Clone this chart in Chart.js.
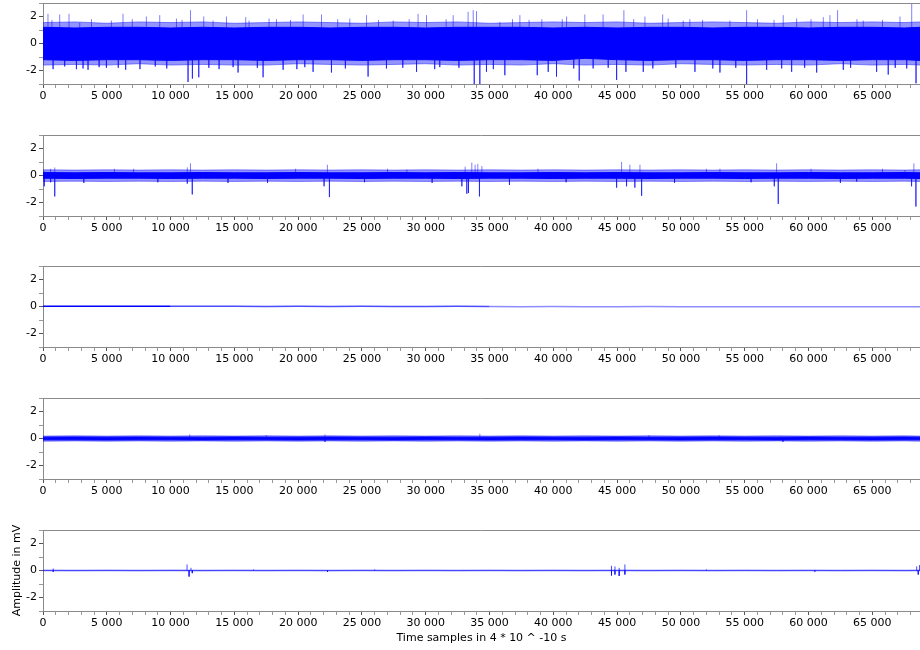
<!DOCTYPE html>
<html>
<head>
<meta charset="utf-8">
<script src="https://cdn.jsdelivr.net/npm/chart.js@4.4.1/dist/chart.umd.min.js"></script>
<style>
html, body { margin: 0; padding: 0; background: #fff; }
#wrap { position: relative; width: 920px; height: 650px; overflow: hidden; }
#wrap canvas { position: absolute; left: 0; }
</style>
</head>
<body>
<div id="wrap"></div>
<script>
// time axis (samples) and tick labels
const xMax = 68740;
const xMajor = [0, 5000, 10000, 15000, 20000, 25000, 30000, 35000, 40000, 45000, 50000, 55000, 60000, 65000];
const yTicks = [-3, -2, -1, 0, 1, 2, 3];
const yLabels = [-2, 0, 2];

// x positions of the band envelopes
const envX = [0, 2500, 5000, 7500, 10000, 12500, 15000, 17500, 20000, 22500, 25000, 27500, 30000, 32500,
  35000, 37500, 40000, 42500, 45000, 47500, 50000, 52500, 55000, 57500, 60000, 62500, 65000, 67500, 68740];

// channel 1
const p1CoreHi = [1.2, 1.15, 1.2, 1.2, 1.15, 1.2, 1.15, 1.2, 1.2, 1.15, 1.2, 1.2, 1.15, 1.2, 1.2, 1.2, 1.15, 1.2, 1.15, 1.2, 1.2, 1.15, 1.2, 1.2, 1.15, 1.2, 1.2, 1.15, 1.2];
const p1CoreLo = [-1.2, -1.25, -1.2, -1.2, -1.25, -1.2, -1.2, -1.25, -1.2, -1.2, -1.25, -1.2, -1.2, -1.25, -1.2, -1.2, -1.25, -1.1, -1.2, -1.25, -1.2, -1.2, -1.25, -1.2, -1.2, -1.25, -1.2, -1.2, -1.25];
const p1FringeHi = [1.55, 1.6, 1.5, 1.6, 1.55, 1.6, 1.5, 1.55, 1.6, 1.55, 1.5, 1.6, 1.55, 1.6, 1.5, 1.55, 1.6, 1.55, 1.6, 1.5, 1.55, 1.6, 1.55, 1.5, 1.6, 1.55, 1.6, 1.55, 1.6];
const p1FringeLo = [-1.6, -1.55, -1.6, -1.5, -1.6, -1.55, -1.6, -1.6, -1.5, -1.55, -1.6, -1.55, -1.5, -1.6, -1.55, -1.6, -1.5, -1.6, -1.55, -1.6, -1.5, -1.55, -1.6, -1.55, -1.6, -1.5, -1.6, -1.55, -1.6];
const p1Spikes = [
  [390, 2.2], [790, -1.9], [1310, 2.15], [2040, 2.2], [2620, -1.9], [2880, 1.55], [3140, -1.85], [3530, -1.95],
  [4970, -1.8], [5360, 1.7], [6270, 2.2], [6480, -1.95], [8100, 2.0], [9150, 2.1], [10460, 1.85], [11370, -2.85],
  [11560, 2.47], [11710, -2.6], [12210, -2.5], [12600, 2.0], [13330, 1.7], [14380, 2.0], [14900, -1.75], [15290, -2.15],
  [15890, 1.95], [16150, 1.7], [17250, -2.5], [17720, 1.85], [18820, -1.95], [20390, 2.15], [20520, -1.75],
  [21170, -2.1], [21830, 2.15], [22610, -2.15], [24050, 1.85], [25360, 2.1], [25480, -2.45], [26920, -1.85],
  [27450, 1.7], [29280, -2.1], [29400, 2.2], [30060, 2.1], [31100, -1.75], [32150, 2.1], [33320, 2.35], [33720, 2.47],
  [33800, -3.0], [33980, 2.4], [34240, -3.0], [34760, -2.1], [35810, 1.6], [36200, -2.35], [37380, 2.1], [38740, -2.35],
  [39600, -2.1], [40250, -2.45], [41040, 2.0], [42030, -2.75], [42470, 2.15], [43120, -1.85], [43900, 2.15],
  [44960, -2.7], [45530, 2.47], [45690, -2.1], [47050, -2.1], [47180, 2.0], [48570, 2.15], [49000, 1.85], [50180, 1.7],
  [51100, -2.1], [53060, -2.15], [53840, 1.7], [55150, 2.47], [55150, -3.0], [56720, -1.95], [58020, 2.1], [58680, -2.1],
  [59070, 1.85], [60640, -2.15], [61160, 1.95], [61680, 2.1], [62280, 2.47], [62730, -1.95], [64290, 1.7], [65340, -2.1],
  [66250, -2.3], [67170, 2.0], [68090, 2.95], [68430, -2.95],
  [700, 1.75], [1700, -1.7], [3800, 1.8], [4400, -1.75], [5900, -1.8], [7000, 1.8], [7600, -1.9], [8800, -1.7],
  [9700, -1.85], [10900, 1.75], [13000, -1.8], [13800, -1.9], [16800, -1.8], [18300, 1.8], [19400, 1.75], [19900, -1.9],
  [23100, 1.8], [23700, -1.85], [26300, 1.75], [28200, -1.8], [28700, 1.8], [30700, -1.9], [31600, 1.8], [32600, -1.8],
  [35300, -1.9], [36800, 1.8], [38100, 1.75], [39100, 1.8], [40700, 1.8], [41600, -1.85], [44300, -1.8], [46300, 1.8],
  [47800, -1.85], [49600, -1.8], [50700, 1.8], [51700, 1.75], [52500, -1.85], [54300, -1.8], [56000, 1.8], [57300, 1.75],
  [57900, -1.85], [59700, -1.8], [60200, 1.8], [63300, -1.8], [63800, 1.8], [65800, 1.75], [66800, -1.8], [67700, -1.85]
];

// channel 2
const p2CoreHi = [0.22, 0.2, 0.22, 0.2, 0.2, 0.22, 0.2, 0.2, 0.22, 0.2, 0.2, 0.22, 0.2, 0.22, 0.2, 0.2, 0.22, 0.2, 0.22, 0.2, 0.2, 0.22, 0.2, 0.2, 0.22, 0.2, 0.2, 0.22, 0.2];
const p2CoreLo = [-0.2, -0.22, -0.2, -0.2, -0.22, -0.2, -0.2, -0.22, -0.2, -0.2, -0.22, -0.2, -0.2, -0.22, -0.2, -0.2, -0.22, -0.2, -0.2, -0.22, -0.2, -0.2, -0.22, -0.2, -0.2, -0.22, -0.2, -0.2, -0.22];
const p2FringeHi = [0.42, 0.4, 0.42, 0.4, 0.42, 0.4, 0.42, 0.4, 0.42, 0.4, 0.42, 0.4, 0.42, 0.4, 0.42, 0.4, 0.42, 0.4, 0.42, 0.4, 0.42, 0.4, 0.42, 0.4, 0.42, 0.4, 0.42, 0.4, 0.42];
const p2FringeLo = [-0.44, -0.42, -0.44, -0.42, -0.44, -0.42, -0.44, -0.42, -0.44, -0.42, -0.44, -0.42, -0.44, -0.42, -0.44, -0.42, -0.44, -0.42, -0.44, -0.42, -0.44, -0.42, -0.44, -0.42, -0.44, -0.42, -0.44, -0.42, -0.44];
const p2Spikes = [
  [100, -0.8], [100, 0.3], [600, 0.5], [600, -0.5], [920, -1.55], [920, 0.59], [11310, -0.6], [11310, 0.6],
  [11560, 0.9], [11700, -1.4], [22030, -0.8], [22290, 0.8], [22450, -1.6], [28520, 0.45], [32830, -0.8],
  [33090, 0.65], [33220, -1.35], [33350, -1.3], [33610, 0.95], [33870, 0.8], [34080, 0.85], [34210, -1.55],
  [34400, 0.7], [36560, -0.7], [44960, -0.9], [45350, 1.0], [45740, -0.8], [46000, 0.8], [46390, -0.9],
  [46790, 0.8], [46920, -1.5], [53060, 0.5], [57320, -0.8], [57500, 0.9], [57630, -2.1], [63780, -0.45],
  [67560, 0.4], [68080, -0.8], [68260, 0.9], [68420, -2.3],
  [3200, -0.55], [5600, 0.5], [7100, 0.5], [9000, -0.5], [14500, -0.55], [17600, -0.55], [19800, 0.5],
  [25200, -0.5], [27000, 0.5], [30500, -0.55], [38800, 0.5], [41000, -0.5], [49500, -0.55], [52000, 0.5],
  [55500, -0.5], [60200, 0.5], [62500, -0.55], [65800, 0.5]
];

// channel 3
const p3Line = [0.02, 0.01, 0.02, 0.01, 0.02, 0.01, 0.01, 0.0, 0.01, 0.0, 0.01, 0.0, 0.0, 0.01, 0.0,
  -0.01, 0.0, -0.01, -0.01, 0.0, -0.01, -0.01, -0.02, -0.01, -0.02, -0.01, -0.02, -0.02, -0.02];

// channel 4
const p4CoreHi = [0.1, 0.11, 0.1, 0.11, 0.1, 0.1, 0.11, 0.1, 0.1, 0.11, 0.1, 0.1, 0.11, 0.1, 0.1, 0.11, 0.1, 0.1, 0.11, 0.1, 0.1, 0.11, 0.1, 0.1, 0.11, 0.1, 0.1, 0.11, 0.1];
const p4CoreLo = [-0.1, -0.1, -0.11, -0.1, -0.1, -0.11, -0.1, -0.1, -0.11, -0.1, -0.1, -0.11, -0.1, -0.1, -0.11, -0.1, -0.1, -0.11, -0.1, -0.1, -0.11, -0.1, -0.1, -0.11, -0.1, -0.1, -0.11, -0.1, -0.1];
const p4FringeHi = [0.18, 0.2, 0.18, 0.2, 0.18, 0.2, 0.18, 0.2, 0.18, 0.2, 0.18, 0.2, 0.18, 0.2, 0.18, 0.2, 0.18, 0.2, 0.18, 0.2, 0.18, 0.2, 0.18, 0.2, 0.18, 0.2, 0.18, 0.2, 0.18];
const p4FringeLo = [-0.2, -0.18, -0.2, -0.18, -0.2, -0.18, -0.2, -0.18, -0.2, -0.18, -0.2, -0.18, -0.2, -0.18, -0.2, -0.18, -0.2, -0.18, -0.2, -0.18, -0.2, -0.18, -0.2, -0.18, -0.2, -0.18, -0.2, -0.18, -0.2];
const p4Spikes = [[11500, 0.3], [17500, 0.25], [22100, 0.3], [22100, -0.25], [34240, 0.35], [47500, 0.25], [53000, 0.25], [58000, -0.25]];

// channel 5
const p5CoreHi = [0.03, 0.02, 0.03, 0.02, 0.03, 0.02, 0.03, 0.02, 0.03, 0.02, 0.03, 0.02, 0.03, 0.02, 0.03, 0.02, 0.03, 0.02, 0.03, 0.02, 0.03, 0.02, 0.03, 0.02, 0.03, 0.02, 0.03, 0.02, 0.03];
const p5CoreLo = [-0.02, -0.03, -0.02, -0.03, -0.02, -0.03, -0.02, -0.03, -0.02, -0.03, -0.02, -0.03, -0.02, -0.03, -0.02, -0.03, -0.02, -0.03, -0.02, -0.03, -0.02, -0.03, -0.02, -0.03, -0.02, -0.03, -0.02, -0.03, -0.02];
const p5Spikes = [
  [800, 0.15], [800, -0.1], [11290, 0.45], [11450, -0.45], [11600, 0.2], [11700, -0.2], [16500, 0.08], [22300, -0.1],
  [26000, 0.08], [44560, 0.35], [44560, -0.37], [44830, 0.3], [44830, -0.3], [45160, -0.4], [45160, 0.2],
  [45610, 0.45], [45610, -0.3], [52000, 0.08], [60500, -0.08], [68480, 0.3], [68600, -0.3], [68700, 0.4]
];

const panels = [
  { coreHi: p1CoreHi, coreLo: p1CoreLo, fringeHi: p1FringeHi, fringeLo: p1FringeLo, spikes: p1Spikes },
  { coreHi: p2CoreHi, coreLo: p2CoreLo, fringeHi: p2FringeHi, fringeLo: p2FringeLo, spikes: p2Spikes },
  { line: p3Line },
  { coreHi: p4CoreHi, coreLo: p4CoreLo, fringeHi: p4FringeHi, fringeLo: p4FringeLo, spikes: p4Spikes },
  { coreHi: p5CoreHi, coreLo: p5CoreLo, spikes: p5Spikes, light: true }
];

// plot tops in the page, the plot height, and the top padding inside each canvas
const plotTops = [3, 135, 266, 398, 530];
const plotH = 81;
const padTop = 10;
const axisColor = '#8a8a8a';
const font = { family: 'DejaVu Sans', size: 11 };
const blue = '#0000ff';
const fringeColor = 'rgba(0,0,255,0.42)';
const spikeColor = 'rgba(0,0,255,0.5)';

const xTicks = [];
for (let v = 0; v <= xMax; v += 1000) xTicks.push(v);

function fmt(v) {
  return String(v).replace(/\B(?=(\d{3})+(?!\d))/g, ' ');
}

function envLine(vals, fill, color) {
  return {
    data: envX.map((x, k) => ({ x: x, y: vals[k] })),
    borderColor: color, backgroundColor: color, borderWidth: 1,
    pointRadius: 0, tension: 0, fill: fill
  };
}

function spikeData(list) {
  const out = [];
  list.forEach(([x, y]) => { out.push({ x: x, y: 0 }, { x: x, y: y }, { x: x, y: null }); });
  return out;
}

const topFrame = {
  id: 'topFrame',
  afterDraw(chart) {
    const { ctx, chartArea } = chart;
    ctx.save();
    ctx.strokeStyle = axisColor;
    ctx.lineWidth = 1;
    ctx.beginPath();
    ctx.moveTo(chartArea.left, chartArea.top + 0.5);
    ctx.lineTo(chartArea.right, chartArea.top + 0.5);
    ctx.stroke();
    ctx.restore();
  }
};

const wrap = document.getElementById('wrap');

panels.forEach((p, i) => {
  const last = i === panels.length - 1;
  const axisH = last ? 40 : 28;
  const cv = document.createElement('canvas');
  cv.width = 920;
  cv.height = padTop + plotH + axisH;
  cv.style.top = (plotTops[i] - padTop) + 'px';
  wrap.appendChild(cv);

  const datasets = [];
  if (p.spikes) {
    datasets.push({
      data: spikeData(p.spikes), borderColor: p.light ? 'rgba(0,0,255,0.7)' : spikeColor,
      borderWidth: 1, pointRadius: 0, spanGaps: false, fill: false
    });
  }
  if (p.coreHi) {
    const c = p.light ? 'rgba(0,0,255,0.5)' : blue;
    datasets.push(envLine(p.coreHi, false, c), envLine(p.coreLo, '-1', c));
  }
  if (p.fringeHi) {
    datasets.push(envLine(p.fringeHi, false, fringeColor), envLine(p.fringeLo, '-1', fringeColor));
  }
  if (p.line) {
    datasets.push({
      data: envX.map((x, k) => ({ x: x, y: p.line[k] })),
      borderColor: blue, borderWidth: 1.5, pointRadius: 0, fill: false,
      segment: {
        borderColor: s => s.p0.parsed.x < 10000 ? blue : (s.p0.parsed.x < 35000 ? 'rgba(0,0,255,0.7)' : 'rgba(0,0,255,0.45)')
      }
    });
  }

  new Chart(cv, {
    type: 'line',
    data: { datasets: datasets },
    options: {
      responsive: false,
      animation: false,
      devicePixelRatio: 1,
      layout: { padding: { top: padTop, left: 0, right: 0, bottom: 0 } },
      plugins: { legend: { display: false }, tooltip: { enabled: false } },
      scales: {
        x: {
          type: 'linear', min: 0, max: xMax,
          afterBuildTicks: a => { a.ticks = xTicks.map(v => ({ value: v })); },
          afterFit: s => { s.height = axisH; },
          ticks: {
            autoSkip: false, maxRotation: 0, padding: 2, font: font, color: '#000',
            callback: v => xMajor.includes(v) ? fmt(v) : ''
          },
          grid: {
            drawOnChartArea: false, drawTicks: true, tickLength: 4,
            tickColor: c => (c.tick && c.tick.value % 5000 === 0) ? '#555' : '#999'
          },
          border: { color: axisColor, width: 1 },
          title: {
            display: last, text: 'Time samples in 4 * 10 ^ -10 s', font: font, color: '#000',
            padding: { top: 0, bottom: 6 }
          }
        },
        y: {
          type: 'linear', min: -3, max: 3,
          afterBuildTicks: a => { a.ticks = yTicks.map(v => ({ value: v })); },
          afterFit: s => { s.width = 43; },
          ticks: {
            autoSkip: false, padding: 2, font: font, color: '#000',
            callback: v => yLabels.includes(v) ? String(v) : ''
          },
          grid: {
            drawOnChartArea: false, drawTicks: true, tickLength: 4,
            tickColor: c => (c.tick && c.tick.value % 2 === 0) ? '#555' : '#999'
          },
          border: { color: axisColor, width: 1 },
          title: {
            display: last, text: 'Amplitude in mV', font: font, color: '#000',
            padding: { top: 11, bottom: 0 }
          }
        }
      }
    },
    plugins: [topFrame]
  });
});
</script>
</body>
</html>
